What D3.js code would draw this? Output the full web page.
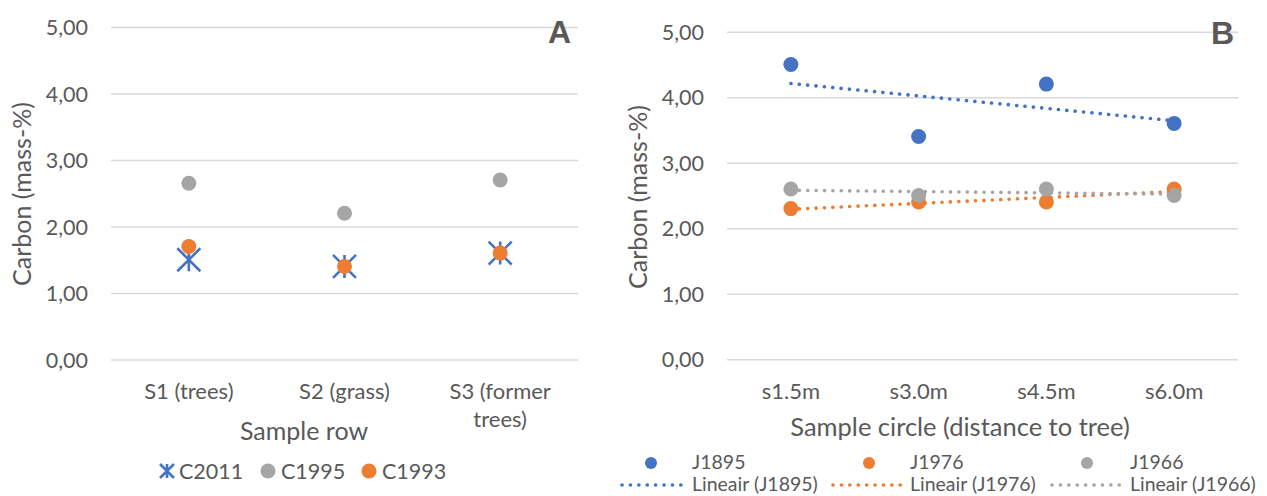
<!DOCTYPE html>
<html><head><meta charset="utf-8">
<script src="https://cdn.jsdelivr.net/npm/d3@7"></script>
<style>
body{margin:0;background:#fff}
svg{display:block}
text{font-family:Lato,"Open Sans",sans-serif;fill:#595959}
</style>
</head><body>
<svg id="chart" width="1267" height="496"></svg>
<script>
// ---- data ----
const rowCategories = ["S1 (trees)", "S2 (grass)", "S3 (former trees)"];
const c2011 = [1.5, 1.4, 1.6];
const c1995 = [2.65, 2.2, 2.7];
const c1993 = [1.7, 1.4, 1.6];

const circleCategories = ["s1.5m", "s3.0m", "s4.5m", "s6.0m"];
const j1895 = [4.5, 3.4, 4.2, 3.6];
const j1976 = [2.3, 2.4, 2.4, 2.6];
const j1966 = [2.6, 2.5, 2.6, 2.5];

const yTicks = [0, 1, 2, 3, 4, 5];

const BLUE = "#4472C4", ORANGE = "#ED7D31", GRAY = "#A5A5A5", GRID = "#D9D9D9";
const svg = d3.select("#chart");
const fmt = d => d3.format(".2f")(d).replace(".", ",");

function yAxis(g, y, x0, x1) {
  g.attr("transform", `translate(${x0},0)`)
   .call(d3.axisLeft(y).tickValues(yTicks).tickSize(-(x1 - x0)).tickPadding(23).tickFormat(fmt))
   .call(s => s.select(".domain").remove())
   .call(s => s.selectAll(".tick line").attr("stroke", GRID).attr("stroke-width", 1.6))
   .call(s => s.selectAll(".tick text").attr("fill", "#595959").style("font-size", "21.5px")
        .style("font-family", "Lato").attr("dy", "0.35em"));
}

function catLabels(g, x, baseline) {
  g.selectAll("text").data(x.domain()).join("text")
    .attr("x", d => x(d) + x.bandwidth() / 2)
    .attr("y", baseline)
    .attr("text-anchor", "middle")
    .style("font-size", "22px")
    .each(function(d) {
      const t = d3.select(this);
      const words = d.split(" ");
      let line = [], lines = [];
      t.text(d);
      if (this.getComputedTextLength() <= x.bandwidth() - 8) return;
      t.text("");
      words.forEach(w => {
        const test = line.concat([w]).join(" ");
        t.text(test);
        if (this.getComputedTextLength() > x.bandwidth() - 8 && line.length) {
          lines.push(line.join(" ")); line = [w];
        } else line.push(w);
      });
      lines.push(line.join(" "));
      t.text("");
      lines.forEach((l, i) => t.append("tspan").attr("x", x(d) + x.bandwidth() / 2)
        .attr("dy", i === 0 ? 0 : 28).text(l));
    });
}

function starPath(cx, cy, r) {
  return `M${cx - r},${cy - r}L${cx + r},${cy + r}M${cx - r},${cy + r}L${cx + r},${cy - r}M${cx},${cy - r}L${cx},${cy + r}`;
}

// ================= Panel A =================
const xA = d3.scaleBand().domain(rowCategories).range([111, 578]);
const yA = d3.scaleLinear().domain([0, 5]).range([359.5, 27]);
yAxis(svg.append("g"), yA, 111, 578);
catLabels(svg.append("g"), xA, 399);

const cxA = (i) => xA(rowCategories[i]) + xA.bandwidth() / 2;
const gA = svg.append("g");
gA.selectAll("path.star").data(c2011).join("path").attr("class", "star")
  .attr("d", (d, i) => starPath(cxA(i), yA(d), 11.5))
  .attr("stroke", BLUE).attr("stroke-width", 2.6).attr("fill", "none");
gA.selectAll("circle.c95").data(c1995).join("circle").attr("class", "c95")
  .attr("cx", (d, i) => cxA(i)).attr("cy", d => yA(d)).attr("r", 7.5).attr("fill", GRAY);
gA.selectAll("circle.c93").data(c1993).join("circle").attr("class", "c93")
  .attr("cx", (d, i) => cxA(i)).attr("cy", d => yA(d)).attr("r", 7.5).attr("fill", ORANGE);

svg.append("text").attr("x", 559.5).attr("y", 43).attr("text-anchor", "middle")
  .style("font-family", "Liberation Sans").style("font-weight", "bold").style("font-size", "32px").text("A");
svg.append("text").attr("transform", "translate(31,194) rotate(-90)").attr("text-anchor", "middle")
  .style("font-size", "25px").text("Carbon (mass-%)");
svg.append("text").attr("x", 304).attr("y", 440).attr("text-anchor", "middle")
  .style("font-size", "25px").text("Sample row");

// legend A
const legA = svg.append("g");
legA.append("path").attr("d", starPath(167, 471, 7)).attr("stroke", BLUE).attr("stroke-width", 2.6).attr("fill", "none");
legA.append("text").attr("x", 179).attr("y", 471).attr("dy", "0.35em").style("font-size", "21.5px").text("C2011");
legA.append("circle").attr("cx", 268).attr("cy", 471).attr("r", 7.5).attr("fill", GRAY);
legA.append("text").attr("x", 281).attr("y", 471).attr("dy", "0.35em").style("font-size", "21.5px").text("C1995");
legA.append("circle").attr("cx", 369).attr("cy", 471).attr("r", 7.5).attr("fill", ORANGE);
legA.append("text").attr("x", 382).attr("y", 471).attr("dy", "0.35em").style("font-size", "21.5px").text("C1993");

// ================= Panel B =================
const xB = d3.scaleBand().domain(circleCategories).range([727, 1238]);
const yB = d3.scaleLinear().domain([0, 5]).range([359.3, 31.7]);
yAxis(svg.append("g"), yB, 727, 1238);
catLabels(svg.append("g"), xB, 399);
const cxB = (i) => xB(circleCategories[i]) + xB.bandwidth() / 2;

const seriesB = [
  {name: "J1895", values: j1895, color: BLUE},
  {name: "J1976", values: j1976, color: ORANGE},
  {name: "J1966", values: j1966, color: GRAY}
];
function linFit(vals) {
  const xs = vals.map((_, i) => i + 1);
  const mx = d3.mean(xs), my = d3.mean(vals);
  const b = d3.sum(xs, (x, i) => (x - mx) * (vals[i] - my)) / d3.sum(xs, x => (x - mx) ** 2);
  return xs.map(x => my + b * (x - mx));
}
const gB = svg.append("g");
seriesB.forEach(s => {
  gB.append("g").selectAll("circle").data(s.values).join("circle")
    .attr("cx", (d, i) => cxB(i)).attr("cy", d => yB(d)).attr("r", 7.5).attr("fill", s.color);
});
const trend = d3.line().x(d => cxB(d.i)).y(d => yB(d.v));
seriesB.forEach(s => {
  const fit = linFit(s.values);
  const ends = [{i: 0, v: fit[0]}, {i: fit.length - 1, v: fit[fit.length - 1]}];
  gB.append("path")
    .attr("d", trend(ends))
    .attr("stroke", s.color).attr("stroke-width", 3.6).attr("fill", "none")
    .attr("stroke-linecap", "round").attr("stroke-dasharray", "0.1 8.3");
});

svg.append("text").attr("x", 1222.5).attr("y", 44).attr("text-anchor", "middle")
  .style("font-family", "Liberation Sans").style("font-weight", "bold").style("font-size", "32px").text("B");
svg.append("text").attr("transform", "translate(647,197) rotate(-90)").attr("text-anchor", "middle")
  .style("font-size", "25px").text("Carbon (mass-%)");
svg.append("text").attr("x", 960).attr("y", 436).attr("text-anchor", "middle")
  .style("font-size", "25.5px").text("Sample circle (distance to tree)");

// legend B
const legB = svg.append("g");
const legX = [{dot: 651, l0: 622, l1: 685, tx: 692}, {dot: 869, l0: 833, l1: 903, tx: 910}, {dot: 1087, l0: 1052, l1: 1122, tx: 1130}];
seriesB.forEach((s, i) => {
  const p = legX[i];
  legB.append("circle").attr("cx", p.dot).attr("cy", 463).attr("r", 6).attr("fill", s.color);
  legB.append("text").attr("x", p.tx).attr("y", 462).attr("dy", "0.35em").style("font-size", "19.5px").text(s.name);
  legB.append("path").attr("d", `M${p.l0},485L${p.l1},485`).attr("stroke", s.color).attr("stroke-width", 3.6)
    .attr("stroke-linecap", "round").attr("stroke-dasharray", "0.1 8.3");
  legB.append("text").attr("x", p.tx).attr("y", 484).attr("dy", "0.35em").style("font-size", "19.5px").text(`Lineair (${s.name})`);
});
</script>
</body></html>
